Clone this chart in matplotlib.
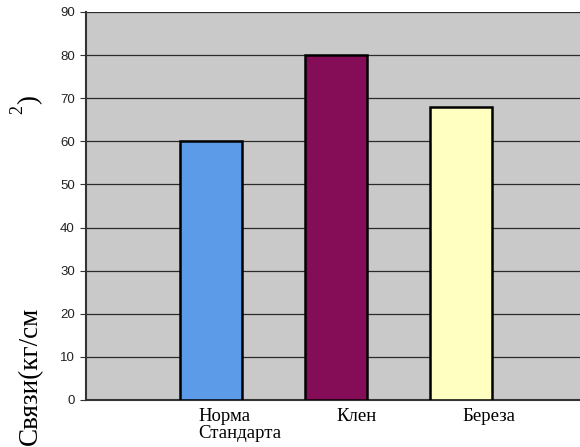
import matplotlib
matplotlib.use("Agg")
import matplotlib.pyplot as plt

# bond strength by wood type
categories = ["Норма\nСтандарта", "Клен", "Береза"]
values = [60, 80, 68]
colors = ["#5b9be8", "#850d57", "#ffffc2"]
yticks = list(range(0, 91, 10))

fig = plt.figure(figsize=(5.8, 4.47), dpi=100)
ax = fig.add_axes([86 / 580, 47 / 447, 500 / 580, 388 / 447])
ax.set_facecolor("#c9c9c9")

x = range(len(categories))
ax.bar(x, values, width=0.5, color=colors, edgecolor="black", linewidth=1.8, zorder=3)

ax.set_xlim(-1, 3)
ax.set_ylim(0, 90)
ax.set_yticks(yticks)
ax.set_yticklabels([str(t) for t in yticks], fontfamily="Liberation Sans", fontsize=9.5, color="#222222")
ax.tick_params(axis="y", length=4, width=0.8, color="#333333", pad=4)
ax.set_xticks([])
ax.grid(axis="y", color="#2b2b2b", linewidth=0.9, zorder=1)

for side in ["top", "right"]:
    ax.spines[side].set_visible(False)
ax.spines["left"].set_color("#333333")
ax.spines["left"].set_linewidth(1.5)
ax.spines["bottom"].set_color("#333333")
ax.spines["bottom"].set_linewidth(1.5)

# category labels, left-aligned under the bars
label_offsets = [-0.1, 0.0, 0.01]
for i, (name, off) in enumerate(zip(categories, label_offsets)):
    ax.text(i + off, -1.9, name, ha="left", va="top", fontfamily="Liberation Serif",
            fontsize=13.5, linespacing=0.95, transform=ax.transData, clip_on=False)

# y axis title, broken into two pieces
fig.text(30 / 580, 1 - 376 / 447, "Связи(кг/см", rotation=90, ha="center", va="center",
         fontfamily="Liberation Serif", fontsize=19.5)
fig.text(18 / 580, 1 - 109 / 447, "2", rotation=90, ha="center", va="center",
         fontfamily="Liberation Serif", fontsize=13)
fig.text(30 / 580, 1 - 100 / 447, ")", rotation=90, ha="center", va="center",
         fontfamily="Liberation Serif", fontsize=19.5)

fig.savefig("out.png", dpi=100)
